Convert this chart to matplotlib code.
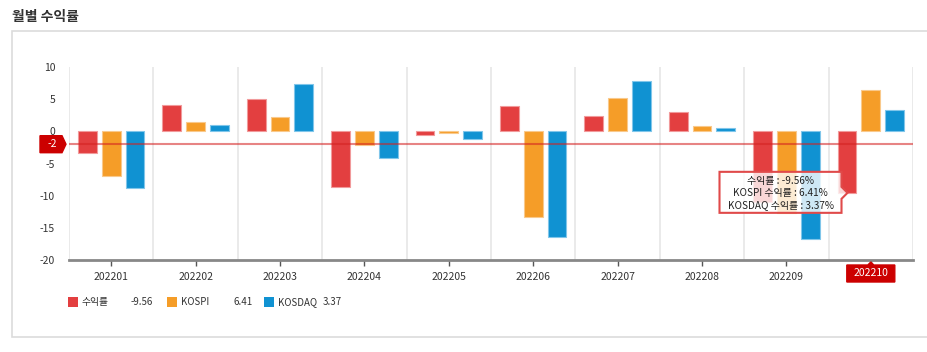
#!/usr/bin/env python3

import numpy as np
import matplotlib
matplotlib.use("Agg")
import matplotlib.pyplot as plt
from matplotlib.patches import Rectangle, Polygon

plt.rcParams['font.family'] = ['Noto Sans CJK KR', 'DejaVu Sans']

# monthly returns (%)
months = ['202201', '202202', '202203', '202204', '202205',
          '202206', '202207', '202208', '202209', '202210']
fund = [-3.3, 4.1, 5.0, -8.6, -0.5, 4.0, 2.4, 3.0, -11.0, -9.56]
kospi = [-6.9, 1.5, 2.3, -2.2, -0.2, -13.3, 5.2, 0.9, -12.7, 6.41]
kosdaq = [-8.8, 1.0, 7.4, -4.1, -1.2, -16.5, 7.9, 0.5, -16.7, 3.37]
ref_line = -2
yticks = [10, 5, 0, -5, -10, -15, -20]
sel = 9  # highlighted month

names = ['수익률', 'KOSPI', 'KOSDAQ']
colors = ['#e33f40', '#f59d28', '#1092d2']
edges = ['#f19a9b', '#f9c98c', '#80c6ea']

W, H = 928, 352
fig = plt.figure(figsize=(W / 100, H / 100), dpi=100)


def fx(x):
    return x / W


def fy(y):
    return 1 - y / H


# panel box + title
fig.patches.append(Rectangle((fx(12), fy(337)), fx(928) - fx(12), fy(31) - fy(337),
                             transform=fig.transFigure, fill=False,
                             edgecolor='#dcdcdc', lw=1.2))
fig.text(fx(12), fy(17), '월별 수익률', fontsize=10, fontweight='bold',
         color='#333333', va='center', ha='left')

ax = fig.add_axes([fx(69), fy(260), fx(913) - fx(69), fy(67) - fy(260)])
x = np.arange(len(months))
bw = 0.225
off = 0.282
for i, (vals, c, e) in enumerate(zip([fund, kospi, kosdaq], colors, edges)):
    ax.bar(x + (i - 1) * off, vals, width=bw, color=c, edgecolor=e, lw=0.8, zorder=3)

ax.set_xlim(-0.5, len(months) - 0.5)
ax.set_ylim(-20, 10)
ax.set_yticks(yticks)
ax.set_yticklabels([str(t) for t in yticks], fontsize=7.5, color='#333333')
ax.set_xticks(x)
ax.set_xticklabels([m if i != sel else '' for i, m in enumerate(months)],
                   fontsize=7.5, color='#333333')
ax.tick_params(axis='y', length=0, pad=10)
ax.tick_params(axis='x', length=4, width=1, color='#555555', pad=5)
for s in ['top', 'right', 'left']:
    ax.spines[s].set_visible(False)
ax.spines['bottom'].set_color('#888888')
ax.spines['bottom'].set_linewidth(2)
for b in np.arange(-0.5, len(months), 1.0):
    ax.axvline(b, color='#e6e6e6', lw=1.2, zorder=1)

# reference line at -2
ax.axhline(ref_line, color='#d42020', alpha=0.55, lw=1.5, zorder=5)
fig.canvas.draw()
to_fig = fig.transFigure.inverted()
_, ly = ax.transData.transform((0, ref_line))
lx0 = ax.transAxes.transform((0, 0))[0]
pts = [(lx0 - 29, ly + 8.5), (lx0 - 7, ly + 8.5), (lx0 - 3, ly),
       (lx0 - 7, ly - 8.5), (lx0 - 29, ly - 8.5)]
fig.patches.append(Polygon(to_fig.transform(pts), closed=True, transform=fig.transFigure,
                           facecolor='#cc0000', edgecolor='#cc0000', zorder=6))
cx, cy = to_fig.transform((lx0 - 17, ly))
fig.text(cx, cy, str(ref_line), color='white', fontsize=7.5, ha='center', va='center', zorder=7)

# highlighted month label
sx, _ = ax.transData.transform((sel, 0))
_, by = ax.transAxes.transform((0, 0))
pts = [(sx - 24, by - 5), (sx - 3, by - 5), (sx, by - 2), (sx + 3, by - 5),
       (sx + 24, by - 5), (sx + 24, by - 22), (sx - 24, by - 22)]
fig.patches.append(Polygon(to_fig.transform(pts), closed=True, transform=fig.transFigure,
                           facecolor='#cc0000', edgecolor='#cc0000', zorder=6))
cx, cy = to_fig.transform((sx, by - 13.5))
fig.text(cx, cy, months[sel], color='white', fontsize=7.5, ha='center', va='center', zorder=7)

# tooltip
px, py = ax.transData.transform((sel - off - bw / 2, fund[sel]))
px += 10
r, l = px - 6, px - 128
t, b = py + 21, py - 20
pts = [(l, t), (r, t), (r, py + 6), (px, py), (r, py - 6), (r, b), (l, b)]
fig.patches.append(Polygon(to_fig.transform(pts), closed=True, transform=fig.transFigure,
                           facecolor='white', alpha=0.8, edgecolor='none', zorder=8))
fig.patches.append(Polygon(to_fig.transform(pts), closed=True, transform=fig.transFigure,
                           facecolor='none', edgecolor='#e04a4a', lw=1.5, zorder=9))
tip = ['%s : %.2f%%' % ('수익률', fund[sel]),
       'KOSPI 수익률 : %.2f%%' % kospi[sel],
       'KOSDAQ 수익률 : %.2f%%' % kosdaq[sel]]
for k, line in enumerate(tip):
    cx, cy = to_fig.transform(((l + r) / 2, py + 12 - 12 * k))
    fig.text(cx, cy, line, fontsize=7.2, color='#222222', ha='center', va='center', zorder=10)

# legend
legend_x = [68, 167, 264]
value_x = [131, 233, 323]
last = [fund[sel], kospi[sel], kosdaq[sel]]
for n, c, lx, vx, v in zip(names, colors, legend_x, value_x, last):
    fig.patches.append(Rectangle((fx(lx), fy(307)), fx(10), 10 / H,
                                 transform=fig.transFigure, facecolor=c, edgecolor='none'))
    fig.text(fx(lx + 14), fy(302), n, fontsize=7, color='#333333', va='center')
    fig.text(fx(vx), fy(302), '%.2f' % v, fontsize=7, color='#333333', va='center')

fig.savefig('out.png', dpi=100)
